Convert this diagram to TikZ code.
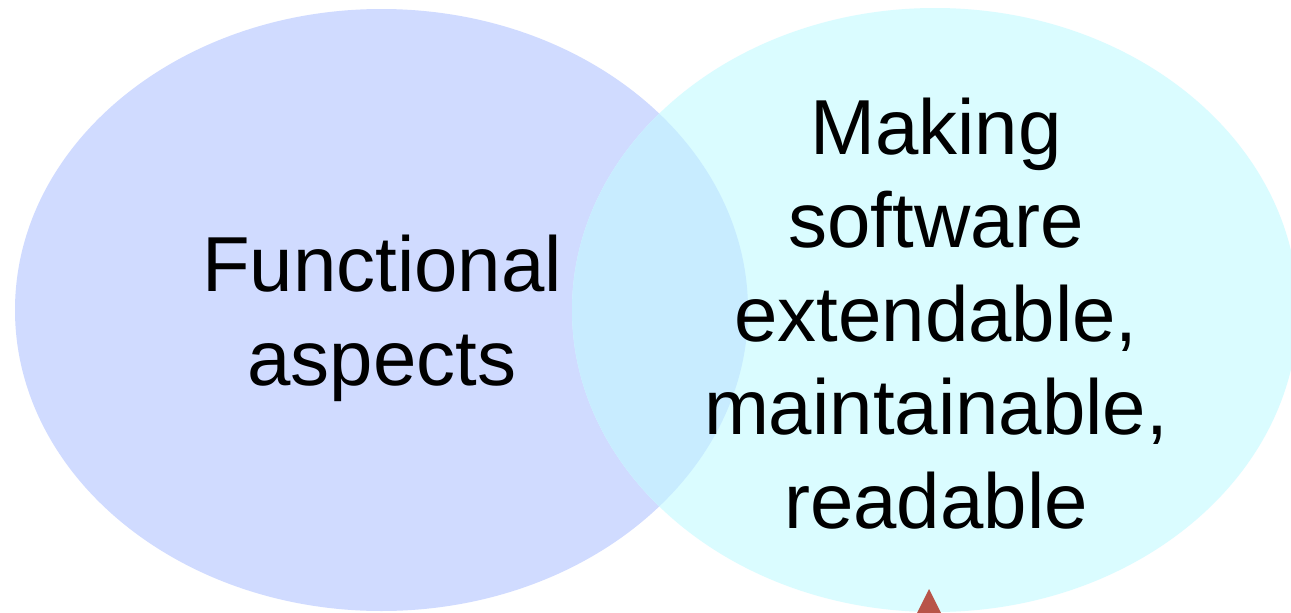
\documentclass[tikz,border=0pt]{standalone}
\usepackage{fontspec}
\setmainfont{Liberation Sans}
\definecolor{leftfill}{RGB}{208,219,255}
\definecolor{rightfill}{RGB}{218,252,255}
\definecolor{overlapfill}{RGB}{200,236,255}
\definecolor{markred}{RGB}{184,84,73}
\tikzset{
  bigtext/.style={font=\fontsize{78}{93.5}\selectfont, align=center, inner sep=0pt, text=black},
}
\begin{document}
\begin{tikzpicture}[x=1pt,y=-1pt]
\useasboundingbox (0,0) rectangle (1291,613);
\clip (0,0) rectangle (1291,613);
\fill[white] (0,0) rectangle (1291,613);
\fill[leftfill] (381.5,310) ellipse [x radius=366.5, y radius=301];
\fill[rightfill] (935,310) ellipse [x radius=363, y radius=302];
\begin{scope}
  \clip (381.5,310) ellipse [x radius=366.5, y radius=301];
  \fill[overlapfill] (935,310) ellipse [x radius=363, y radius=302];
\end{scope}
\node[bigtext, anchor=base] (func) at (382,385) {Functional\\aspects};
\node[bigtext, anchor=base] (soft) at (936,528) {Making\\software\\extendable,\\maintainable,\\readable};
\fill[markred] (929,589) -- (905,637) -- (953,637) -- cycle;
\end{tikzpicture}
\end{document}
